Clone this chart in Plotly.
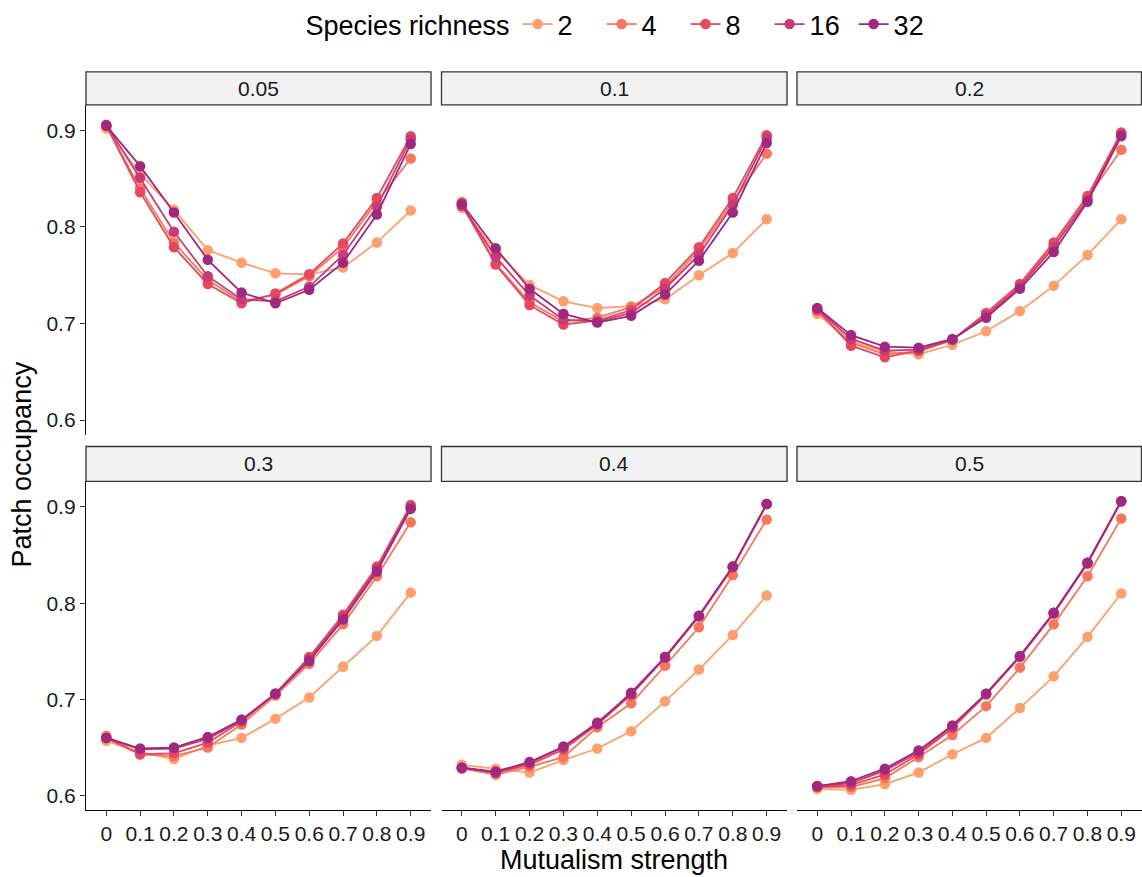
import plotly.graph_objects as go

# ---------------- data ----------------
mutualism = [0, 0.1, 0.2, 0.3, 0.4, 0.5, 0.6, 0.7, 0.8, 0.9]
mutualism_labels = ["0", "0.1", "0.2", "0.3", "0.4", "0.5", "0.6", "0.7", "0.8", "0.9"]
richness = ["2", "4", "8", "16", "32"]
panel_labels = ["0.05", "0.1", "0.2", "0.3", "0.4", "0.5"]
y_ticks = [0.6, 0.7, 0.8, 0.9]

occ_005 = {
    "2":  [0.902, 0.855, 0.818, 0.776, 0.763, 0.752, 0.751, 0.758, 0.784, 0.817],
    "4":  [0.905, 0.840, 0.784, 0.745, 0.723, 0.730, 0.749, 0.779, 0.826, 0.871],
    "8":  [0.905, 0.836, 0.779, 0.741, 0.721, 0.731, 0.751, 0.783, 0.830, 0.894],
    "16": [0.906, 0.851, 0.795, 0.749, 0.725, 0.723, 0.738, 0.771, 0.821, 0.891],
    "32": [0.905, 0.863, 0.815, 0.766, 0.732, 0.721, 0.735, 0.763, 0.813, 0.886],
}
occ_01 = {
    "2":  [0.820, 0.775, 0.740, 0.723, 0.716, 0.718, 0.725, 0.750, 0.773, 0.808],
    "4":  [0.826, 0.762, 0.722, 0.702, 0.706, 0.717, 0.738, 0.776, 0.826, 0.876],
    "8":  [0.823, 0.761, 0.719, 0.699, 0.703, 0.714, 0.742, 0.779, 0.830, 0.895],
    "16": [0.822, 0.769, 0.729, 0.704, 0.702, 0.711, 0.736, 0.771, 0.823, 0.892],
    "32": [0.824, 0.778, 0.736, 0.710, 0.701, 0.708, 0.730, 0.765, 0.815, 0.887],
}
occ_02 = {
    "2":  [0.710, 0.681, 0.671, 0.668, 0.678, 0.692, 0.713, 0.739, 0.771, 0.808],
    "4":  [0.713, 0.680, 0.668, 0.671, 0.683, 0.710, 0.740, 0.781, 0.830, 0.880],
    "8":  [0.714, 0.677, 0.665, 0.672, 0.683, 0.711, 0.741, 0.784, 0.832, 0.898],
    "16": [0.715, 0.684, 0.672, 0.673, 0.683, 0.708, 0.738, 0.779, 0.828, 0.896],
    "32": [0.716, 0.688, 0.676, 0.675, 0.684, 0.706, 0.736, 0.774, 0.826, 0.894],
}
occ_03 = {
    "2":  [0.657, 0.645, 0.638, 0.652, 0.660, 0.680, 0.702, 0.734, 0.766, 0.811],
    "4":  [0.662, 0.643, 0.641, 0.650, 0.674, 0.704, 0.737, 0.778, 0.828, 0.884],
    "8":  [0.660, 0.643, 0.644, 0.655, 0.677, 0.706, 0.744, 0.788, 0.838, 0.902],
    "16": [0.660, 0.648, 0.649, 0.659, 0.678, 0.706, 0.742, 0.785, 0.836, 0.900],
    "32": [0.660, 0.649, 0.650, 0.661, 0.679, 0.706, 0.740, 0.783, 0.833, 0.898],
}
occ_04 = {
    "2":  [0.632, 0.628, 0.624, 0.637, 0.649, 0.667, 0.698, 0.731, 0.767, 0.808],
    "4":  [0.628, 0.622, 0.630, 0.640, 0.671, 0.696, 0.735, 0.775, 0.829, 0.887],
    "8":  [0.629, 0.624, 0.632, 0.648, 0.674, 0.705, 0.743, 0.786, 0.837, 0.903],
    "16": [0.629, 0.624, 0.634, 0.650, 0.676, 0.705, 0.744, 0.787, 0.838, 0.903],
    "32": [0.629, 0.625, 0.635, 0.651, 0.675, 0.707, 0.744, 0.787, 0.838, 0.903],
}
occ_05 = {
    "2":  [0.607, 0.606, 0.612, 0.624, 0.643, 0.660, 0.691, 0.724, 0.765, 0.810],
    "4":  [0.609, 0.609, 0.618, 0.640, 0.663, 0.693, 0.733, 0.778, 0.828, 0.888],
    "8":  [0.609, 0.611, 0.622, 0.643, 0.670, 0.705, 0.744, 0.789, 0.841, 0.906],
    "16": [0.610, 0.613, 0.626, 0.645, 0.672, 0.706, 0.745, 0.790, 0.842, 0.906],
    "32": [0.610, 0.615, 0.628, 0.647, 0.673, 0.706, 0.745, 0.790, 0.842, 0.906],
}
panels = [occ_005, occ_01, occ_02, occ_03, occ_04, occ_05]

colors = {"2": "#FE9F6D", "4": "#F8765C", "8": "#E8485F", "16": "#C83C75", "32": "#A0287E"}

# ---------------- layout geometry (pixels) ----------------
W, H = 1142, 877
col_px = [(86, 431), (441.5, 787), (797, 1141.5)]
row_px = [(104, 434), (481, 810)]      # plot area top, bottom
strip_px = [(71, 104), (446, 481)]     # strip top, bottom
FONT = "Liberation Sans, Arial, sans-serif"
TICK_SIZE = 21
TITLE_SIZE = 27

def fx(px):
    return px / W

def fy(py):
    return 1 - py / H

fig = go.Figure()
layout = dict(
    width=W, height=H,
    margin=dict(l=0, r=0, t=0, b=0),
    paper_bgcolor="white", plot_bgcolor="white",
    font=dict(family=FONT, color="black"),
    showlegend=True,
    legend=dict(
        orientation="h", x=fx(621), xanchor="center", y=fy(-1), yanchor="top",
        title=dict(text="Species richness", font=dict(size=TITLE_SIZE), side="left"),
        font=dict(size=TITLE_SIZE), bgcolor="rgba(0,0,0,0)", itemwidth=30,
        entrywidth=39, tracegroupgap=0,
    ),
    shapes=[], annotations=[],
)

for i, data in enumerate(panels):
    r, c = divmod(i, 3)
    n = i + 1
    xa = "xaxis" if n == 1 else f"xaxis{n}"
    ya = "yaxis" if n == 1 else f"yaxis{n}"
    xref = "x" if n == 1 else f"x{n}"
    yref = "y" if n == 1 else f"y{n}"
    x0, x1 = col_px[c]
    t, b = row_px[r]
    layout[xa] = dict(
        domain=[fx(x0), fx(x1)], anchor=yref, range=[-0.06, 0.96],
        tickvals=mutualism, ticktext=mutualism_labels,
        showticklabels=(r == 1), ticks="outside" if r == 1 else "",
        ticklen=5, tickwidth=1.2, tickcolor="#333333",
        showline=(r == 1), linecolor="black", linewidth=1.3,
        showgrid=False, zeroline=False,
        tickfont=dict(size=TICK_SIZE, color="#1a1a1a"),
    )
    layout[ya] = dict(
        domain=[fy(b), fy(t)], anchor=xref, range=[0.585, 0.9265],
        tickvals=y_ticks, ticktext=[str(v) for v in y_ticks],
        showticklabels=(c == 0), ticks="outside" if c == 0 else "",
        ticklen=5, tickwidth=1.2, tickcolor="#333333",
        showline=(c == 0), linecolor="black", linewidth=1.3,
        showgrid=False, zeroline=False,
        tickfont=dict(size=TICK_SIZE, color="#1a1a1a"),
    )
    st, sb = strip_px[r]
    layout["shapes"].append(dict(
        type="rect", xref="paper", yref="paper",
        x0=fx(x0), x1=fx(x1), y0=fy(sb), y1=fy(st),
        fillcolor="#F2F2F2", line=dict(color="#333333", width=1.3), layer="above",
    ))
    layout["annotations"].append(dict(
        text=panel_labels[i], xref="paper", yref="paper",
        x=fx((x0 + x1) / 2), y=fy((st + sb) / 2), xanchor="center", yanchor="middle",
        showarrow=False, font=dict(size=TICK_SIZE, color="#1a1a1a"),
    ))
    for s in richness:
        fig.add_trace(go.Scatter(
            x=mutualism, y=data[s], mode="lines+markers", name=s,
            legendgroup=s, showlegend=(i == 0),
            line=dict(color=colors[s], width=1.8),
            marker=dict(color=colors[s], size=10.5),
            xaxis=xref, yaxis=yref,
        ))

layout["annotations"].append(dict(
    text="Mutualism strength", xref="paper", yref="paper",
    x=fx(614), y=fy(860), xanchor="center", yanchor="middle",
    showarrow=False, font=dict(size=TITLE_SIZE),
))
layout["annotations"].append(dict(
    text="Patch occupancy", xref="paper", yref="paper", textangle=-90,
    x=fx(22), y=fy(464), xanchor="center", yanchor="middle",
    showarrow=False, font=dict(size=TITLE_SIZE),
))

fig.update_layout(**layout)
fig.write_html("out.html")
